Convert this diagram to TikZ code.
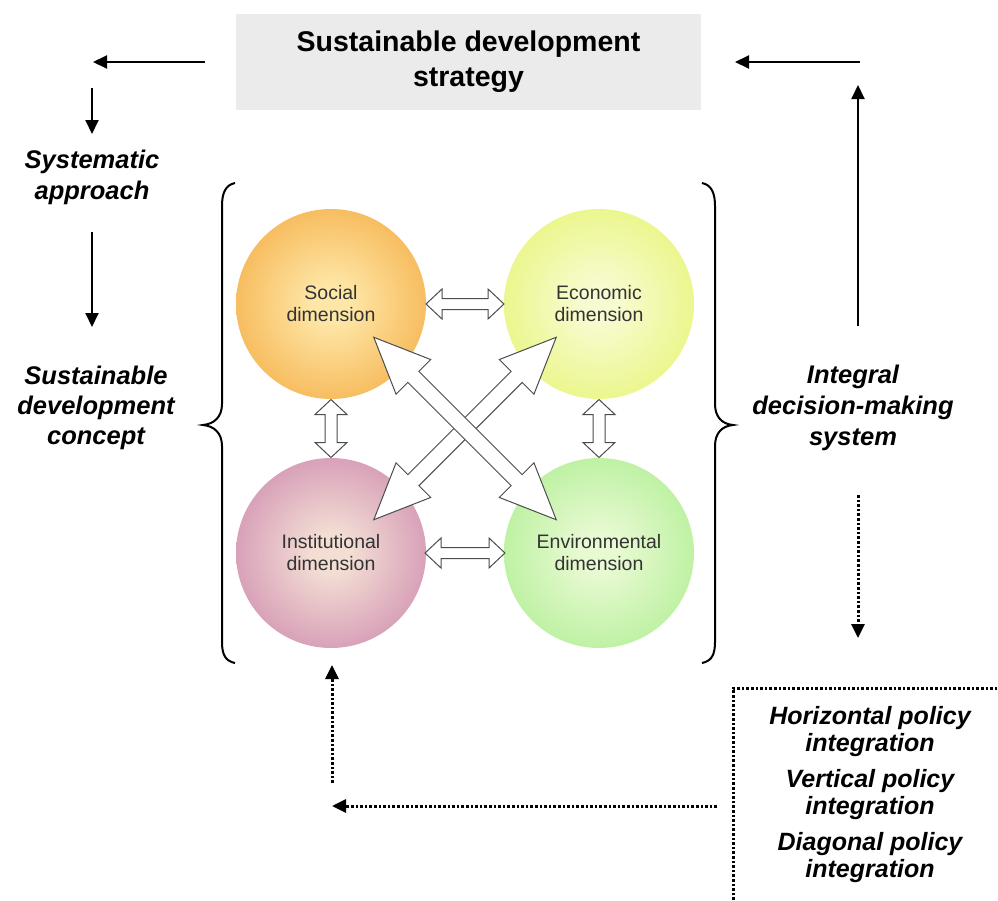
\documentclass[tikz,border=0pt]{standalone}
\usepackage{fontspec}
\setmainfont{Liberation Sans}
\usetikzlibrary{arrows.meta,calc}
\definecolor{socout}{HTML}{F29F2C}
\definecolor{socin}{HTML}{FEE6A6}
\definecolor{ecoout}{HTML}{E2F35E}
\definecolor{ecoin}{HTML}{F8FBCF}
\definecolor{insout}{HTML}{C474A4}
\definecolor{insin}{HTML}{F3DED4}
\definecolor{envout}{HTML}{A0EB82}
\definecolor{envin}{HTML}{E8FAD2}
\definecolor{titlegray}{HTML}{EBEBEB}
\definecolor{dimtext}{HTML}{333333}
\pgfdeclareradialshading{socshade}{\pgfpointorigin}{color(0bp)=(socin); color(5bp)=(socin); color(40bp)=(socout); color(50bp)=(socout)}
\pgfdeclareradialshading{ecoshade}{\pgfpointorigin}{color(0bp)=(ecoin); color(5bp)=(ecoin); color(40bp)=(ecoout); color(50bp)=(ecoout)}
\pgfdeclareradialshading{insshade}{\pgfpointorigin}{color(0bp)=(insin); color(5bp)=(insin); color(40bp)=(insout); color(50bp)=(insout)}
\pgfdeclareradialshading{envshade}{\pgfpointorigin}{color(0bp)=(envin); color(5bp)=(envin); color(40bp)=(envout); color(50bp)=(envout)}
\newcommand{\hollowarrow}[6]{%
  \begin{scope}[shift={#1},rotate=#2]
    \draw[hollow] (-#3,0) -- (-#3+#6,#5) -- (-#3+#6,#4) -- (#3-#6,#4) -- (#3-#6,#5) -- (#3,0)
      -- (#3-#6,-#5) -- (#3-#6,-#4) -- (-#3+#6,-#4) -- (-#3+#6,-#5) -- cycle;
  \end{scope}}
\tikzset{
  dimcircle/.style={circle, inner sep=0pt, minimum size=190pt, shade, align=center,
    text=dimtext, font=\fontsize{19.5}{22}\selectfont},
  hollow/.style={draw=black!70, line width=1pt, fill=white, line join=miter},
  label/.style={align=center, font=\fontsize{25.5}{31}\selectfont\bfseries\itshape},
  arr/.style={line width=2pt, -{Triangle[length=14pt,width=13pt]}},
  dotarr/.style={line width=3pt, dash pattern=on 2.6pt off 2pt, -{Triangle[length=14pt,width=13pt]}},
  dotline/.style={line width=3pt, dash pattern=on 2.6pt off 2pt},
  bracepath/.style={line width=2pt},
}
\begin{document}
\begin{tikzpicture}[x=1pt,y=-1pt]
\useasboundingbox[fill=white] (0,0) rectangle (998,900);

% title
\node[fill=titlegray, minimum width=465pt, minimum height=96pt, inner sep=0pt, align=center,
  font=\fontsize{28.5}{35}\selectfont\bfseries] (title) at (468.5,62) {Sustainable development\\strategy};

% circles
\node[dimcircle, shading=socshade] (soc) at (331,304) {Social\\dimension};
\node[dimcircle, shading=ecoshade] (eco) at (599,304) {Economic\\dimension};
\node[dimcircle, shading=insshade] (ins) at (331,553) {Institutional\\dimension};
\node[dimcircle, shading=envshade] (env) at (599,553) {Environmental\\dimension};

% hollow double arrows
\hollowarrow{($(soc)!0.5!(eco)$)}{0}{39}{5.5}{15}{16}
\hollowarrow{($(ins)!0.5!(env)$)}{0}{40}{5.5}{15}{16}
\hollowarrow{($(soc)!0.5!(ins)$)}{90}{29}{6}{16}{15}
\hollowarrow{($(eco)!0.5!(env)$)}{90}{29}{6}{16}{15}
\hollowarrow{($(ins)!0.5!(eco)$)}{45}{129}{7.8}{24.5}{56}
\hollowarrow{($(soc)!0.5!(env)$)}{-45}{129}{7.8}{24.5}{56}

% braces
\draw[bracepath] (235,183) .. controls (225,185) and (222,194) .. (222,206) -- (222,404)
  .. controls (222,417) and (214,424) .. (203,425) .. controls (214,426) and (222,433) .. (222,446)
  -- (222,642) .. controls (222,654) and (225,661) .. (235,663);
\draw[bracepath] (702,183) .. controls (712,185) and (715,194) .. (715,206) -- (715,404)
  .. controls (715,417) and (722,424) .. (733,425) .. controls (722,426) and (715,433) .. (715,446)
  -- (715,642) .. controls (715,654) and (712,661) .. (702,663);

% labels
\node[label] (sys) at (92,177.5) {Systematic\\approach};
\node[label, font=\fontsize{25.5}{30}\selectfont\bfseries\itshape] (sdc) at (96,408) {Sustainable\\development\\concept};
\node[label] (idm) at (853,408) {Integral\\decision-making\\system};
\node[label, font=\fontsize{25}{27}\selectfont\bfseries\itshape] (pol) at (870,795)
  {Horizontal policy\\integration\\[9pt]Vertical policy\\integration\\[9pt]Diagonal policy\\integration};

% arrows
\coordinate (la1) at (205,62);  \coordinate (la2) at (93,62);
\coordinate (ld1) at (92,88);   \coordinate (ld2) at (92,134);
\coordinate (ld3) at (92,232);  \coordinate (ld4) at (92,327);
\coordinate (ra1) at (860,62);  \coordinate (ra2) at (735,62);
\coordinate (ru1) at (858,326); \coordinate (ru2) at (858,85);
\coordinate (rd1) at (858,495); \coordinate (rd2) at (858,638);
\coordinate (bu1) at (332,783); \coordinate (bu2) at (332,665);
\coordinate (bl1) at (717,806); \coordinate (bl2) at (332,806);
\draw[arr] (la1) -- (la2);
\draw[arr] (ld1) -- (ld2);
\draw[arr] (ld3) -- (ld4);
\draw[arr] (ra1) -- (ra2);
\draw[arr] (ru1) -- (ru2);
\draw[dotarr] (rd1) -- (rd2);
\draw[dotarr] (bu1) -- (bu2);
\draw[dotarr] (bl1) -- (bl2);

% dotted open box
\coordinate (bx1) at (733,900); \coordinate (bx2) at (733,688); \coordinate (bx3) at (998,688);
\draw[dotline] (bx1) -- (bx2) -- (bx3);
\end{tikzpicture}
\end{document}
